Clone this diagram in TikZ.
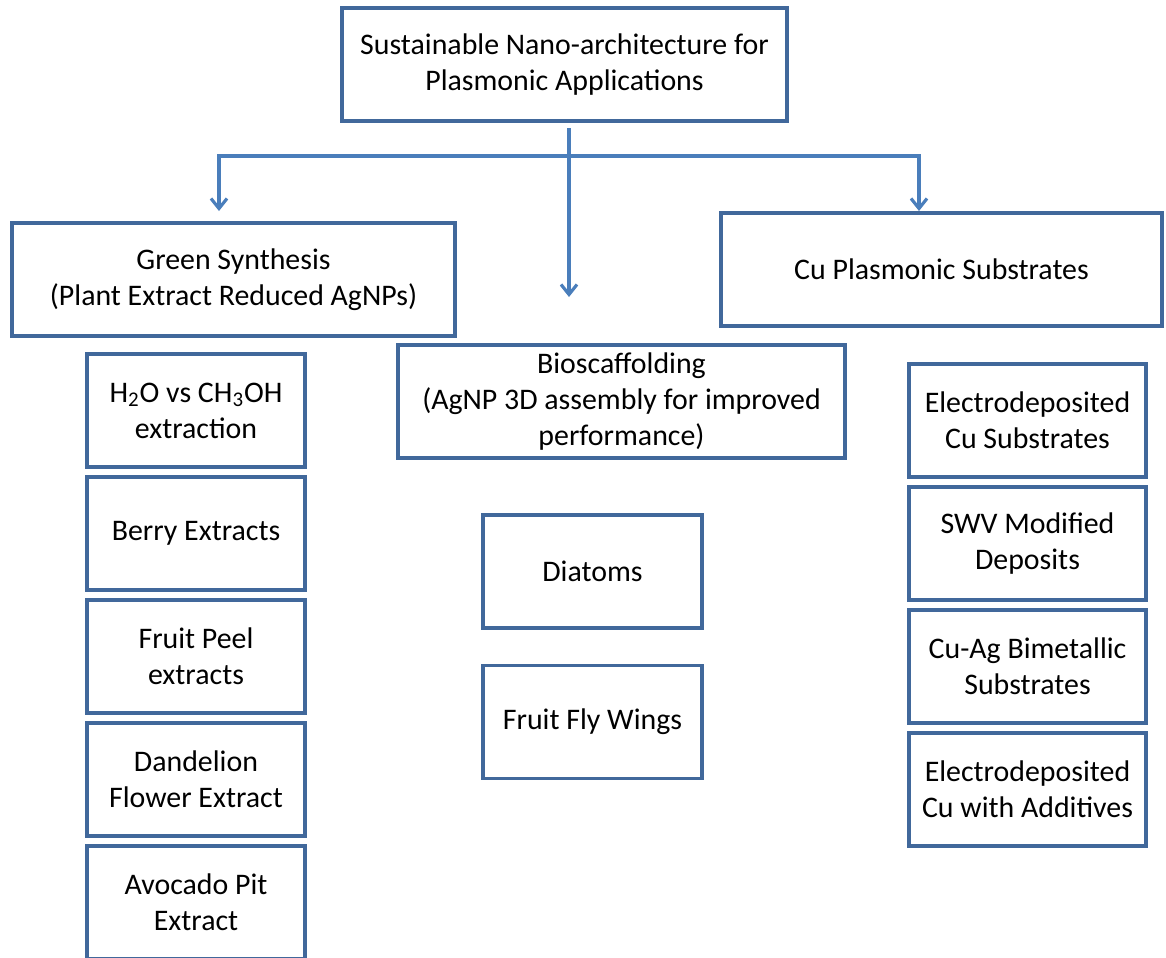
\documentclass[tikz,border=0pt]{standalone}
\usepackage{fontspec}
\setmainfont{Carlito}
\usepackage{tikz}
\usetikzlibrary{arrows.meta,positioning}
\definecolor{boxblue}{HTML}{41689B}
\definecolor{linkblue}{HTML}{4A7EBB}

\begin{document}
\begin{tikzpicture}[x=0.02cm,y=-0.02cm,
                    box/.style={draw=boxblue,line width=2pt,fill=white,align=center,
                                inner sep=0pt,font=\fontsize{17}{20.5}\selectfont},
                    wide/.style={box,minimum width=8.9cm,minimum height=2.26cm},
                    leaf/.style={box,minimum width=4.36cm,minimum height=2.26cm},
                    rleaf/.style={box,minimum width=4.74cm,minimum height=2.26cm},
                    link/.style={draw=linkblue,line width=1.8pt,
                                 -{Straight Barb[length=0.2cm,width=0.32cm,line width=1.8pt]}}]
                    \useasboundingbox (0,0) rectangle (1166,957);
                    % main heading
                    \node [wide] (main) at (564.5,64.5) {Sustainable Nano-architecture for\\Plasmonic Applications};
                    % three branches
                    \node [wide,minimum width=8.86cm] (green) at (233.5,279.5) {Green Synthesis\\(Plant Extract Reduced AgNPs)};
                    \node [wide,minimum width=8.94cm] (bio) at (621.5,401.5) {Bioscaffolding\\(AgNP 3D assembly for improved\\performance)};
                    \node [wide,minimum width=8.82cm] (cu) at (941.5,269.5) {Cu Plasmonic Substrates};
                    % green synthesis column
                    \node [leaf] (water) at (196,410.5) {H\textsubscript{2}O vs CH\textsubscript{3}OH\\extraction};
                    \node [leaf] (berry) at (196,533.5) {Berry Extracts};
                    \node [leaf] (peel) at (196,656.5) {Fruit Peel\\extracts};
                    \node [leaf] (dandelion) at (196,779.5) {Dandelion\\Flower Extract};
                    \node [leaf] (avocado) at (196,902.5) {Avocado Pit\\Extract};
                    % bioscaffolding column
                    \node [leaf,minimum width=4.38cm] (diatom) at (592.5,571.5) {Diatoms};
                    \node [leaf,minimum width=4.38cm] (wing) at (592.5,722) {Fruit Fly Wings};
                    % Cu column
                    \node [rleaf] (edep) at (1027.5,420.5) {Electrodeposited\\Cu Substrates};
                    \node [rleaf] (swv) at (1027.5,543.5) {SWV Modified\\Deposits};
                    \node [rleaf] (cuag) at (1027.5,666.5) {Cu-Ag Bimetallic\\Substrates};
                    \node [rleaf] (additive) at (1027.5,789.5) {Electrodeposited\\Cu with Additives};
                    % connectors
                    \coordinate (mainout) at (569,128);
                    \coordinate (biotip) at (569,297);
                    \coordinate (fork) at (569,156);
                    \coordinate (greentip) at (219,211);
                    \coordinate (cutip) at (919,211);
                    \draw [link] (mainout) -- (biotip);
                    \draw [link] (fork) -| (greentip);
                    \draw [link] (fork) -| (cutip);
                \end{tikzpicture}
\end{document}
